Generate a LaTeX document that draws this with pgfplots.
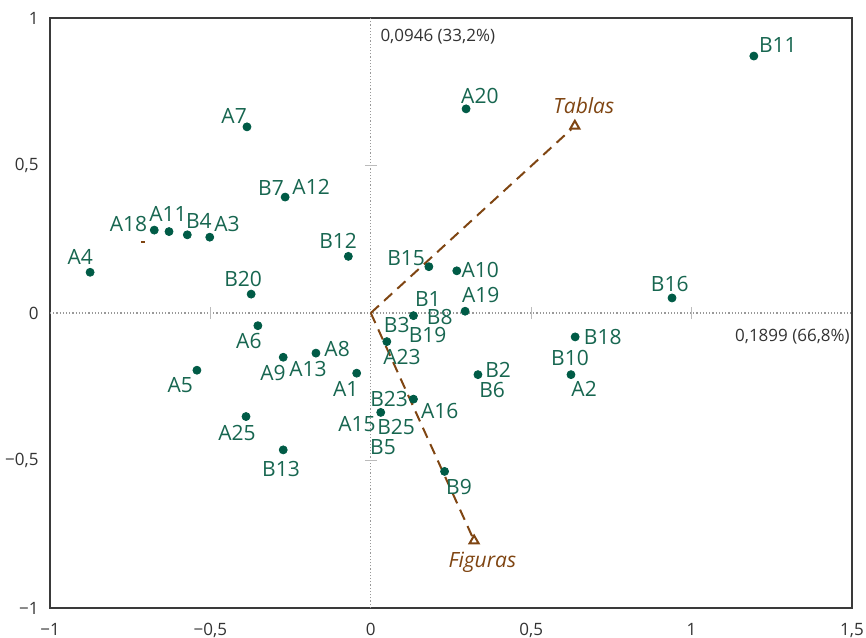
\documentclass[border=0pt]{standalone}
\usepackage{fontspec}
\setmainfont{Open Sans}
\usepackage{pgfplots}
\pgfplotsset{compat=1.18}
\definecolor{ptgreen}{HTML}{005B46}
\definecolor{lblgreen}{HTML}{176650}
\definecolor{brn}{HTML}{7F4512}
\definecolor{framec}{HTML}{3A3A3A}
\definecolor{ticklbl}{HTML}{333333}
\definecolor{tickgray}{HTML}{BBBBBB}
\definecolor{dotgray}{HTML}{999999}
\tikzset{
  lbl/.style={text=lblgreen, font=\fontsize{10.5}{12}\selectfont, inner sep=0pt, anchor=center},
  sup/.style={text=brn, font=\fontsize{10.5}{12}\selectfont\itshape, inner sep=0pt},
  ann/.style={text=ticklbl, font=\fontsize{8.5}{10}\selectfont, inner sep=0pt},
  tk/.style={tickgray, line width=0.7pt},
}
\begin{document}
\begin{tikzpicture}
\begin{axis}[
  scale only axis, width=401pt, height=295pt,
  xmin=-1, xmax=1.5, ymin=-1, ymax=1,
  xtick={-1,-0.5,0,0.5,1,1.5}, xticklabels={{−1},{−0,5},{0},{0,5},{1},{1,5}},
  ytick={-1,-0.5,0,0.5,1}, yticklabels={{−1},{−0,5},{0},{0,5},{1}},
  major tick length=0pt,
  axis line style={framec, line width=0.8pt},
  tick label style={font=\fontsize{8.5}{10}\selectfont, text=ticklbl},
  xticklabel style={yshift=-4pt},
  yticklabel style={xshift=-2.2pt},
  clip=false,
]
% central dotted axes
\draw[dotgray, densely dotted, line width=0.6pt] (axis cs:0,-1) -- (axis cs:0,1);
\draw[dotgray, densely dotted, line width=0.6pt] (axis cs:-1,0) -- (axis cs:1.5,0);
\draw[tk] ([yshift=-3pt]axis cs:-0.5,0) -- ([yshift=3pt]axis cs:-0.5,0);
\draw[tk] ([yshift=-3pt]axis cs:0.5,0) -- ([yshift=3pt]axis cs:0.5,0);
\draw[tk] ([yshift=-3pt]axis cs:1,0) -- ([yshift=3pt]axis cs:1,0);
\draw[tk] ([xshift=-3pt]axis cs:0,0.5) -- ([xshift=3pt]axis cs:0,0.5);
\draw[tk] ([xshift=-3pt]axis cs:0,-0.5) -- ([xshift=3pt]axis cs:0,-0.5);
% supplementary vectors
\addplot[brn, line width=1pt, dash pattern=on 5.5pt off 3.5pt] coordinates {(0,0) (0.625,0.623)};
\addplot[brn, line width=1pt, dash pattern=on 5.5pt off 3.5pt] coordinates {(0,0) (0.318,-0.762)};
\addplot[only marks, mark=triangle, mark size=2.6pt, brn, line width=1pt] coordinates {(0.636,0.634) (0.322,-0.772)};
\addplot[only marks, mark=-, mark size=1pt, brn, line width=1pt] coordinates {(-0.711,0.240)};
% points
\addplot[only marks, mark=*, mark size=2pt, ptgreen, mark options={draw=ptgreen, fill=ptgreen}] coordinates {
(1.194,0.871) (0.297,0.692) (-0.386,0.631) (-0.267,0.393)
(-0.675,0.281) (-0.629,0.276) (-0.572,0.265) (-0.502,0.257)
(-0.875,0.138) (-0.373,0.064) (-0.352,-0.043) (-0.542,-0.194)
(-0.273,-0.150) (-0.171,-0.136) (-0.044,-0.204) (-0.389,-0.351)
(-0.273,-0.464) (0.031,-0.337) (0.050,-0.097) (0.133,-0.009)
(0.294,0.006) (0.181,0.157) (0.268,0.143) (-0.070,0.192)
(0.133,-0.292) (0.334,-0.209) (0.230,-0.537) (0.637,-0.081)
(0.624,-0.209) (0.939,0.051)
};
% labels
\node[lbl] at (axis cs:1.269,0.908) {B11};
\node[lbl] at (axis cs:0.340,0.736) {A20};
\node[lbl] at (axis cs:-0.426,0.667) {A7};
\node[lbl] at (axis cs:-0.311,0.424) {B7};
\node[lbl] at (axis cs:-0.186,0.427) {A12};
\node[lbl] at (axis cs:-0.755,0.302) {A18};
\node[lbl] at (axis cs:-0.632,0.336) {A11};
\node[lbl] at (axis cs:-0.536,0.312) {B4};
\node[lbl] at (axis cs:-0.448,0.302) {A3};
\node[lbl] at (axis cs:-0.906,0.190) {A4};
\node[lbl] at (axis cs:-0.398,0.115) {B20};
\node[lbl] at (axis cs:-0.102,0.244) {B12};
\node[lbl] at (axis cs:0.110,0.186) {B15};
\node[lbl] at (axis cs:0.341,0.146) {A10};
\node[lbl] at (axis cs:0.178,0.047) {B1};
\node[lbl] at (axis cs:0.343,0.061) {A19};
\node[lbl] at (axis cs:0.215,-0.015) {B8};
\node[lbl] at (axis cs:0.081,-0.041) {B3};
\node[lbl] at (axis cs:0.177,-0.073) {B19};
\node[lbl] at (axis cs:0.097,-0.149) {A23};
\node[lbl] at (axis cs:0.932,0.098) {B16};
\node[lbl] at (axis cs:0.723,-0.081) {B18};
\node[lbl] at (axis cs:0.621,-0.153) {B10};
\node[lbl] at (axis cs:0.665,-0.258) {A2};
\node[lbl] at (axis cs:0.397,-0.193) {B2};
\node[lbl] at (axis cs:0.378,-0.261) {B6};
\node[lbl] at (axis cs:0.215,-0.332) {A16};
\node[lbl] at (axis cs:0.057,-0.292) {B23};
\node[lbl] at (axis cs:-0.043,-0.376) {A15};
\node[lbl] at (axis cs:0.079,-0.386) {B25};
\node[lbl] at (axis cs:0.038,-0.454) {B5};
\node[lbl] at (axis cs:0.275,-0.590) {B9};
\node[lbl] at (axis cs:-0.380,-0.095) {A6};
\node[lbl] at (axis cs:-0.305,-0.203) {A9};
\node[lbl] at (axis cs:-0.196,-0.190) {A13};
\node[lbl] at (axis cs:-0.105,-0.122) {A8};
\node[lbl] at (axis cs:-0.594,-0.244) {A5};
\node[lbl] at (axis cs:-0.078,-0.258) {A1};
\node[lbl] at (axis cs:-0.417,-0.407) {A25};
\node[lbl] at (axis cs:-0.280,-0.529) {B13};
\node[sup, anchor=base west] at (axis cs:0.568,0.675) {Tablas};
\node[sup, anchor=base west] at (axis cs:0.241,-0.864) {Figuras};
\node[ann, anchor=base west] at (axis cs:0.029,0.919) {0,0946 (33,2\%)};
\node[ann, anchor=base east] at (axis cs:1.494,-0.098) {0,1899 (66,8\%)};
\end{axis}
\pgfresetboundingbox
\path ([xshift=-25pt,yshift=-14.5pt]current axis.south west) rectangle ([xshift=7pt,yshift=9pt]current axis.north east);
\end{tikzpicture}
\end{document}
